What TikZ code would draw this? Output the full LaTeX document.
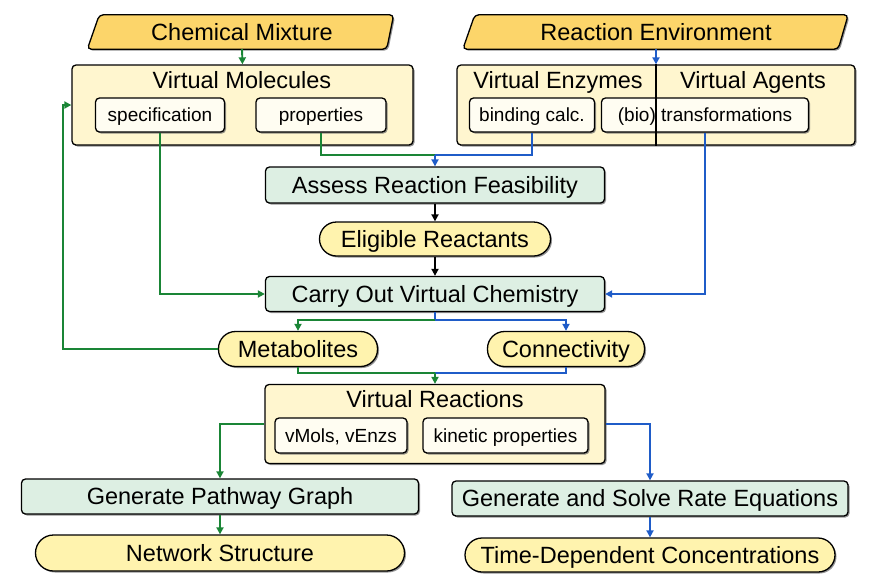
\documentclass[tikz,border=0pt]{standalone}
\usepackage{fontspec}
\setmainfont{Liberation Sans}
\usetikzlibrary{arrows.meta,shadows,calc,backgrounds}
\definecolor{gline}{HTML}{1A8536}
\definecolor{bline}{HTML}{1F5CC8}
\definecolor{parafill}{HTML}{FCD56A}
\definecolor{vfill}{HTML}{FFF6CF}
\definecolor{subfill}{HTML}{FFFDF2}
\definecolor{gfill}{HTML}{DDEFE3}
\definecolor{pfill}{HTML}{FFF3AE}
\newcommand\mybig{\fontsize{23.5}{26}\selectfont}
\newcommand\mysub{\fontsize{19}{22}\selectfont}
\begin{document}
\begin{tikzpicture}[x=1pt,y=-1pt,
  shad/.style={drop shadow={shadow xshift=1.5pt,shadow yshift=-1.5pt,fill=black!60,opacity=0.7}},
  box/.style={draw=black,line width=1.3pt,rounded corners=4pt,inner sep=0pt,shad},
  vbox/.style={box,fill=vfill},
  subbox/.style={box,fill=subfill,font=\mysub,text height=13.6pt,text depth=0pt},
  gbox/.style={box,fill=gfill,font=\mybig,text height=16.8pt,text depth=0pt},
  pill/.style={box,fill=pfill,rounded corners=17pt,font=\mybig,text height=16.8pt,text depth=0pt},
  titletext/.style={inner sep=0pt,font=\mybig,text height=16.8pt,text depth=0pt},
  para/.style={draw=black,line width=1.3pt,rounded corners=4pt,fill=parafill,shad},
  tip/.style={-{Triangle[length=7pt,width=7pt]}},
  gl/.style={draw=gline,line width=1.9pt},
  bl/.style={draw=bline,line width=1.9pt},
  kl/.style={draw=black,line width=1.9pt},
]
\useasboundingbox (0,0) rectangle (871,582);

% input parallelograms
\node[titletext,minimum width=297,minimum height=34] (cm) at (242,32) {Chemical Mixture};
\node[titletext,minimum width=374,minimum height=34] (re) at (656,32) {Reaction Environment};
\begin{scope}[on background layer]
\draw[para] ($(cm.south west)+(-6,0)$) -- ($(cm.north west)+(6,0)$) -- ($(cm.north east)+(3,0)$) -- ($(cm.south east)+(-4,0)$) -- cycle;
\draw[para] ($(re.south west)+(-6,0)$) -- ($(re.north west)+(6,0)$) -- ($(re.north east)+(5,0)$) -- ($(re.south east)+(-5,0)$) -- cycle;
\end{scope}

% Virtual Molecules
\node[vbox,minimum width=341,minimum height=80] (vm) at (242.5,105) {};
\node[titletext] (vmt) at (242,80) {Virtual Molecules};
\node[subbox,minimum width=129,minimum height=34] (spec) at (160,115) {specification};
\node[subbox,minimum width=130,minimum height=34] (props) at (321,115) {properties};

% Virtual Enzymes / Agents
\node[vbox,minimum width=398,minimum height=80] (ve) at (656,105) {};
\node[titletext] (vet) at (558,80) {Virtual Enzymes};
\node[titletext] (vat) at (753,80) {Virtual Agents};
\node[subbox,minimum width=125,minimum height=34] (bind) at (532,115) {binding calc.};
\node[subbox,minimum width=207,minimum height=34] (trans) at (705,115) {(bio) transformations};
\draw[kl,line width=1.3pt] (ve.north) -- (ve.south);

% main flow
\node[gbox,minimum width=339,minimum height=36] (arf) at (435,185) {Assess Reaction Feasibility};
\node[pill,minimum width=231,minimum height=34] (er) at (435,239) {Eligible Reactants};
\node[gbox,minimum width=339,minimum height=35] (cvc) at (435,294) {Carry Out Virtual Chemistry};
\node[pill,minimum width=159,minimum height=35] (met) at (298,349) {Metabolites};
\node[pill,minimum width=157,minimum height=35] (con) at (566,349) {Connectivity};

% Virtual Reactions
\node[vbox,minimum width=340,minimum height=79] (vr) at (435,424) {};
\node[titletext] (vrt) at (435,399) {Virtual Reactions};
\node[subbox,minimum width=132,minimum height=35] (vmols) at (341,435.5) {vMols, vEnzs};
\node[subbox,minimum width=165,minimum height=35] (kin) at (505.5,435.5) {kinetic properties};

% outputs
\node[gbox,minimum width=397,minimum height=35] (gpg) at (220,496.5) {Generate Pathway Graph};
\node[pill,minimum width=369,minimum height=36,rounded corners=18pt] (ns) at (220,553) {Network Structure};
\node[gbox,minimum width=396,minimum height=35] (gsr) at (650,498.5) {Generate and Solve Rate Equations};
\node[pill,minimum width=370,minimum height=34] (tdc) at (650,555) {Time-Dependent Concentrations};

% connectors
\draw[gl,tip] (cm.south) -- (vm.north);
\draw[bl,tip] (re.south) -- (ve.north);

\coordinate (j1) at ($(arf.north)+(0,-11)$);
\draw[gl] (props.south) |- (j1);
\draw[bl] (bind.south) |- (j1);
\draw[bl,tip] (j1) -- (arf.north);

\draw[kl,tip] (arf) -- (er);
\draw[kl,tip] (er) -- (cvc);

\draw[gl,tip] (spec.south) |- (cvc.west);
\draw[bl,tip] (trans.south) |- (cvc.east);

\coordinate (j2) at ($(cvc.south)+(0,8)$);
\draw[bl] (cvc.south) -- (j2);
\draw[gl,tip] (j2) -| (met.north);
\draw[bl,tip] (j2) -| (con.north);

\coordinate (fb) at ($(met.west)+(-155,0)$);
\draw[gl,tip] (met.west) -- (fb) |- (vm.west);

\coordinate (j3) at ($(vr.north)+(0,-11)$);
\draw[gl] (met.south) |- (j3);
\draw[bl] (con.south) |- (j3);
\draw[gl,tip] (j3) -- (vr.north);

\draw[gl,tip] (vr.west) -| (gpg.north);
\draw[bl,tip] (vr.east) -| (gsr.north);
\draw[gl,tip] (gpg) -- (ns);
\draw[bl,tip] (gsr) -- (tdc);
\end{tikzpicture}
\end{document}
